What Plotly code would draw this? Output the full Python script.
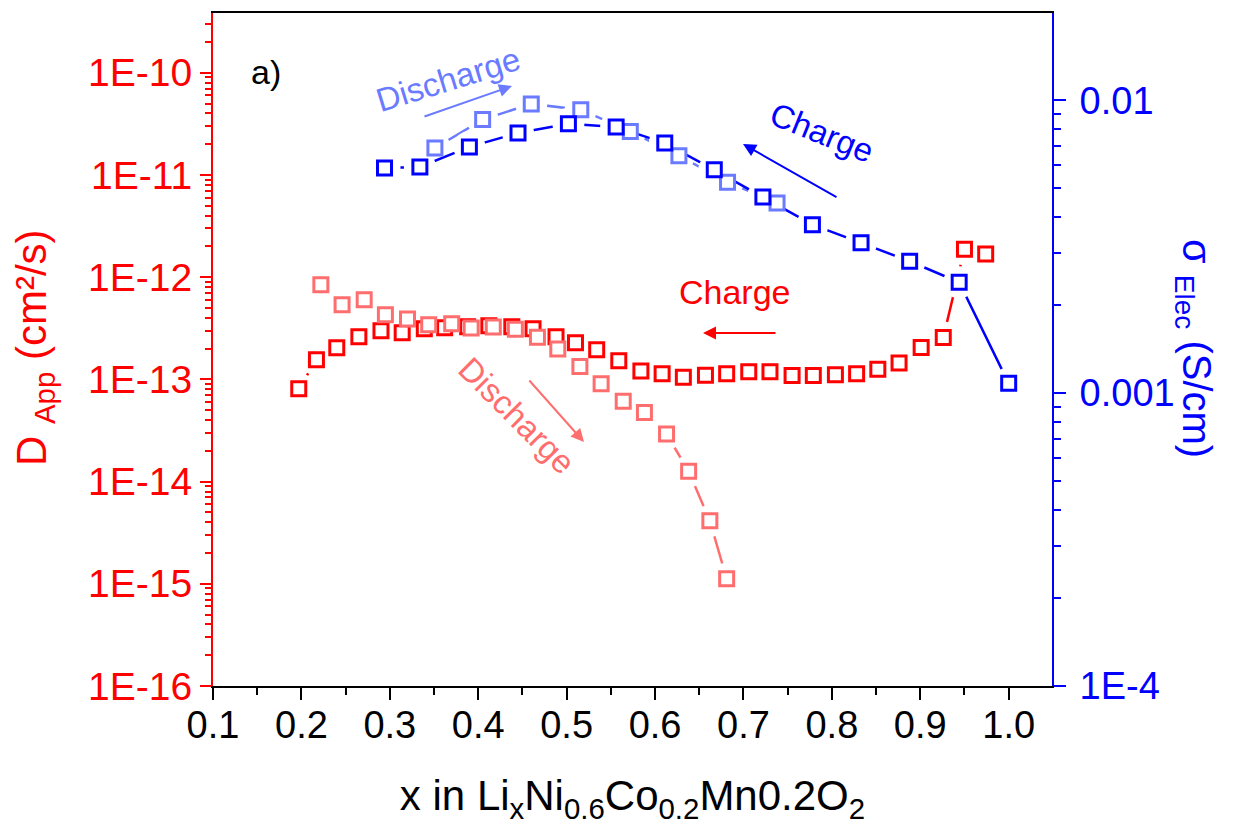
import plotly.graph_objects as go

# ---------------- data ----------------
charge_D_x = [0.197, 0.217, 0.240, 0.265, 0.290, 0.314, 0.339, 0.362, 0.388, 0.412, 0.438,
              0.462, 0.488, 0.510, 0.534, 0.559, 0.584, 0.608, 0.632, 0.657, 0.681, 0.706,
              0.730, 0.755, 0.779, 0.804, 0.828, 0.852, 0.876, 0.901, 0.926, 0.950, 0.974]
charge_D_y = [8.09e-14, 1.556e-13, 2.04e-13, 2.61e-13, 2.99e-13, 2.86e-13, 3.13e-13, 3.20e-13,
              3.27e-13, 3.34e-13, 3.27e-13, 3.13e-13, 2.61e-13, 2.28e-13, 1.95e-13, 1.52e-13,
              1.21e-13, 1.135e-13, 1.05e-13, 1.10e-13, 1.135e-13, 1.186e-13, 1.19e-13, 1.09e-13,
              1.09e-13, 1.11e-13, 1.135e-13, 1.26e-13, 1.445e-13, 2.05e-13, 2.57e-13, 1.88e-12,
              1.69e-12]

discharge_D_x = [0.222, 0.246, 0.271, 0.295, 0.320, 0.344, 0.370, 0.392, 0.417, 0.442,
                 0.467, 0.490, 0.515, 0.539, 0.564, 0.588, 0.613, 0.638, 0.662, 0.681]
discharge_D_y = [8.43e-13, 5.37e-13, 6.01e-13, 4.29e-13, 3.89e-13, 3.42e-13, 3.50e-13, 3.18e-13,
                 3.25e-13, 3.10e-13, 2.59e-13, 1.98e-13, 1.34e-13, 9.06e-14, 6.11e-14, 4.74e-14,
                 2.92e-14, 1.26e-14, 4.13e-15, 1.12e-15]

charge_s_x = [0.294, 0.334, 0.390, 0.445, 0.502, 0.556, 0.611, 0.667, 0.722, 0.778, 0.833,
              0.888, 0.944, 1.000]
charge_s_y = [5.87e-3, 5.92e-3, 6.93e-3, 7.73e-3, 8.32e-3, 8.11e-3, 7.14e-3, 5.79e-3, 4.67e-3,
              3.76e-3, 3.26e-3, 2.82e-3, 2.39e-3, 1.08e-3]

discharge_s_x = [0.351, 0.405, 0.460, 0.516, 0.572, 0.627, 0.682, 0.738]
discharge_s_y = [6.87e-3, 8.59e-3, 9.72e-3, 9.29e-3, 7.83e-3, 6.47e-3, 5.25e-3, 4.46e-3]

left_tickvals = [1e-16, 1e-15, 1e-14, 1e-13, 1e-12, 1e-11, 1e-10]
left_ticktext = ["1E-16", "1E-15", "1E-14", "1E-13", "1E-12", "1E-11", "1E-10"]
right_tickvals = [1e-4, 1e-3, 1e-2]
right_ticktext = ["1E-4", "0.001", "0.01"]

# ---------------- styles ----------------
RED = "#FF0000"
PINK = "#FF6E6E"
BLUE = "#0000FF"
LBLUE = "#6A7BFF"
FONT = "Arial, Liberation Sans, sans-serif"

W, H = 1237, 833
L, R, T, B = 213, 185, 13, 147
PW, PH = W - L - R, H - T - B


def px(xp):
    return (xp - L) / PW


def py(yp):
    return (H - B - yp) / PH


fig = go.Figure()

series = {
    "lblue": (discharge_s_x, discharge_s_y, LBLUE, "y2"),
    "blue": (charge_s_x, charge_s_y, BLUE, "y2"),
    "pink": (discharge_D_x, discharge_D_y, PINK, "y"),
    "red": (charge_D_x, charge_D_y, RED, "y"),
}

# lines with white halos (gaps around markers)
for key in ["lblue", "blue", "pink", "red"]:
    xs, ys, col, ax = series[key]
    fig.add_trace(go.Scatter(x=xs, y=ys, mode="lines", yaxis=ax,
                             line=dict(color=col, width=2.5), hoverinfo="skip"))
    fig.add_trace(go.Scatter(x=xs, y=ys, mode="markers", yaxis=ax,
                             marker=dict(symbol="circle", size=32, color="white",
                                         line=dict(width=0)), hoverinfo="skip"))

# markers
for key in ["red", "pink", "lblue", "blue"]:
    xs, ys, col, ax = series[key]
    fig.add_trace(go.Scatter(x=xs, y=ys, mode="markers", yaxis=ax,
                             marker=dict(symbol="square", size=14, color="white",
                                         line=dict(color=col, width=3))))

# minor ticks for log axes
left_minor = [m * 10.0 ** e for e in range(-16, -9) for m in range(2, 10)]
right_minor = [m * 10.0 ** e for e in range(-4, -1) for m in range(2, 10)]

fig.update_layout(
    width=W, height=H,
    margin=dict(l=L, r=R, t=T, b=B),
    plot_bgcolor="white", paper_bgcolor="white",
    showlegend=False,
    font=dict(family=FONT),
    xaxis=dict(
        range=[0.1, 1.049], tickmode="linear", tick0=0.1, dtick=0.1, tickformat=".1f",
        ticks="outside", ticklen=12, tickwidth=2, tickcolor="black",
        showline=True, linecolor="black", linewidth=2, mirror=True,
        showgrid=False, zeroline=False, ticklabelstandoff=-8,
        tickfont=dict(size=38, color="black", family=FONT),
        minor=dict(dtick=0.05, tick0=0.1, ticks="outside", ticklen=7, tickwidth=2,
                   tickcolor="black"),
        title=dict(text="x in Li<sub>x</sub>Ni<sub>0.6</sub>Co<sub>0.2</sub>Mn0.2O<sub>2</sub>",
                   font=dict(size=42, color="black", family=FONT), standoff=36),
    ),
    yaxis=dict(
        type="log", range=[-16, -9.415],
        tickmode="array", tickvals=left_tickvals, ticktext=left_ticktext,
        ticks="outside", ticklen=11, tickwidth=2, tickcolor=RED,
        showline=True, linecolor=RED, linewidth=2,
        showgrid=False, zeroline=False,
        tickfont=dict(size=39, color=RED, family=FONT),
        minor=dict(tickmode="array", tickvals=left_minor, ticks="outside", ticklen=6,
                   tickwidth=2, tickcolor=RED),
    ),
    yaxis2=dict(
        type="log", range=[-4, -1.702], overlaying="y", side="right", anchor="x",
        tickmode="array", tickvals=right_tickvals, ticktext=right_ticktext,
        ticks="outside", ticklen=12, tickwidth=2, tickcolor=BLUE,
        showline=True, linecolor=BLUE, linewidth=2,
        showgrid=False, zeroline=False, ticklabelstandoff=6,
        tickfont=dict(size=38, color=BLUE, family=FONT),
        minor=dict(tickmode="array", tickvals=right_minor, ticks="outside", ticklen=7,
                   tickwidth=2, tickcolor=BLUE),
    ),
)

ann = []


def label(text, xp, yp, size, color, angle=0):
    return dict(text=text, x=px(xp), y=py(yp), xref="paper", yref="paper",
                textangle=angle, showarrow=False, xanchor="center", yanchor="middle",
                font=dict(size=size, color=color, family=FONT))


# axis titles
ann.append(label("D <sub>App</sub> (cm²/s)", 34, 348, 42, RED, -90))
ann.append(label("σ <sub>Elec</sub> (S/cm)", 1194, 348, 40, BLUE, 90))
# panel label
ann.append(label("a)", 266, 72, 34, "black"))
# series labels
ann.append(label("Discharge", 448, 80, 33, LBLUE, -17))
ann.append(label("Charge", 822, 132, 33, BLUE, 22))
ann.append(label("Charge", 735, 292, 34, RED))
ann.append(label("Discharge", 517, 415, 33, PINK, 45))


def arrow(tail, tip, col):
    return dict(x=px(tip[0]), y=py(tip[1]), xref="paper", yref="paper",
                ax=tail[0] - tip[0], ay=tail[1] - tip[1], axref="pixel", ayref="pixel",
                text="", showarrow=True, arrowhead=2, arrowsize=1.3, arrowwidth=2,
                arrowcolor=col)


ann.append(arrow((423, 117), (512, 86), LBLUE))
ann.append(arrow((838, 198), (743, 144), BLUE))
ann.append(arrow((777, 333), (703, 333), RED))
ann.append(arrow((528, 379), (584, 442), PINK))

fig.update_layout(annotations=ann)

fig.write_html("out.html", config={"displayModeBar": False},
               post_script="document.body.style.margin='0px';")
